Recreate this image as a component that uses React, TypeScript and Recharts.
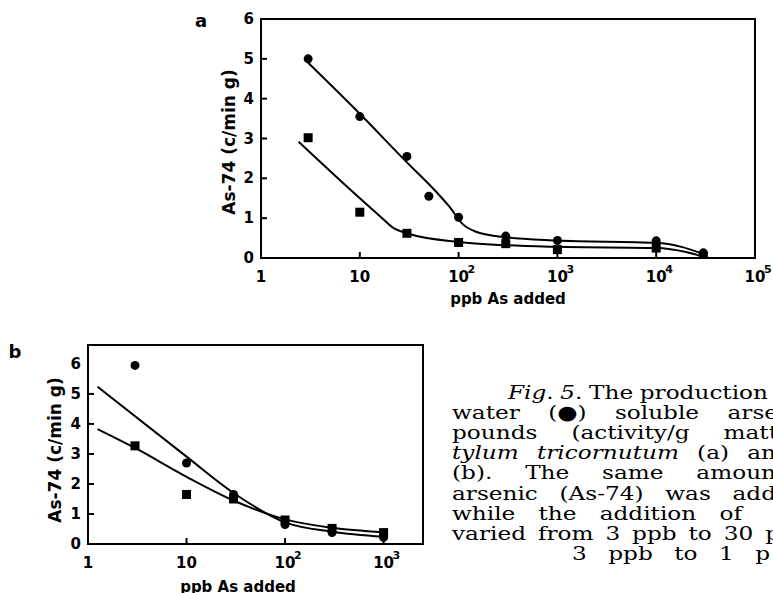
import { useLayoutEffect, useRef, useState } from 'react';
import { ComposedChart, Line, Scatter, XAxis, YAxis, ReferenceArea } from 'recharts';

const INK = '#000';
const SANS = "'DejaVu Sans', 'Liberation Sans', sans-serif";
const SERIF = "'DejaVu Serif', 'Liberation Serif', serif";

// panel a: 3 ppb .. 3x10^4 ppb
const aCircleX = [3, 10, 30, 50, 100, 300, 1000, 10000, 30000];
const aCircleY = [5.0, 3.55, 2.55, 1.55, 1.02, 0.55, 0.44, 0.43, 0.13];
const aSquareX = [3, 10, 30, 100, 300, 1000, 10000, 30000];
const aSquareY = [3.02, 1.15, 0.62, 0.39, 0.36, 0.21, 0.25, 0.05];
// hand-drawn fit curves
const aCircleFitX = [3, 10, 30, 60, 80, 110, 150, 300, 1000, 10000, 18000, 30000];
const aCircleFitY = [4.9, 3.62, 2.4, 1.65, 1.3, 0.85, 0.66, 0.52, 0.44, 0.38, 0.28, 0.1];
const aSquareFitX = [2.4, 10, 16, 22, 30, 100, 300, 1000, 10000, 20000, 30000];
const aSquareFitY = [2.92, 1.5, 1.05, 0.75, 0.62, 0.4, 0.32, 0.28, 0.25, 0.15, 0.03];

// panel b: 3 ppb .. 1000 ppb
const bCircleX = [3, 10, 30, 100, 300, 1000];
const bCircleY = [5.95, 2.7, 1.65, 0.65, 0.38, 0.22];
const bSquareX = [3, 10, 30, 100, 300, 1000];
const bSquareY = [3.27, 1.65, 1.5, 0.8, 0.52, 0.38];
const bCircleFitX = [1.25, 10, 30, 100, 300, 1000];
const bCircleFitY = [5.24, 2.91, 1.7, 0.72, 0.41, 0.24];
const bSquareFitX = [1.25, 3, 10, 30, 100, 300, 1000];
const bSquareFitY = [3.83, 3.2, 2.24, 1.45, 0.82, 0.54, 0.39];

const aXTicks = [1, 10, 100, 1000, 10000, 100000];
const aXBase = ['1', '10', '10', '10', '10', '10'];
const aXSup = ['', '', '2', '3', '4', '5'];
const bXTicks = [1, 10, 100, 1000];
const bXBase = ['1', '10', '10', '10'];
const bXSup = ['', '', '2', '3'];
const yTicks = [0, 1, 2, 3, 4, 5, 6];

const pts = (xs: number[], ys: number[]) => xs.map((x, i) => ({ x, y: ys[i] }));

function Dot(props: any) {
  const { cx, cy } = props;
  if (cx == null || cy == null) return null;
  return <circle cx={cx} cy={cy} r={4.5} fill={INK} />;
}

function Sq(props: any) {
  const { cx, cy } = props;
  if (cx == null || cy == null) return null;
  return <rect x={cx - 4.5} y={cy - 4.5} width={9} height={9} fill={INK} />;
}

function makeXTick(ticks: number[], base: string[], sup: string[], inner: boolean[]) {
  return (props: any) => {
    const { x, y, payload } = props;
    const i = ticks.indexOf(payload.value);
    if (i < 0) return <g />;
    return (
      <g>
        {inner[i] && <line x1={x} x2={x} y1={y} y2={y - 6} stroke={INK} strokeWidth={2} />}
        <text x={x} y={y + 24} textAnchor="middle" fontFamily={SANS} fontSize={15} fontWeight={700} fill={INK}>
          {base[i]}
        </text>
        {sup[i] && (
          <text x={x + 9} y={y + 15} textAnchor="start" fontFamily={SANS} fontSize={11} fontWeight={700} fill={INK}>
            {sup[i]}
          </text>
        )}
      </g>
    );
  };
}

function yTick(props: any) {
  const { x, y, payload } = props;
  const v = payload.value;
  return (
    <g>
      {v > 0 && v < 6 && <line x1={x} x2={x + 6} y1={y} y2={y} stroke={INK} strokeWidth={2} />}
      <text x={x - 7} y={y + 5} textAnchor="end" fontFamily={SANS} fontSize={15} fontWeight={700} fill={INK}>
        {v}
      </text>
    </g>
  );
}

function Panel({ w, h, margin, xMax, yMax, xTicks, xTick, circles, squares, circleFit, squareFit }: any) {
  return (
    <ComposedChart width={w} height={h} margin={margin}>
      <XAxis
        dataKey="x" type="number" scale="log" domain={[1, xMax]} ticks={xTicks} allowDataOverflow
        height={40} axisLine={false} tickLine={false} tickSize={0} tickMargin={0} interval={0} tick={xTick}
      />
      <YAxis
        dataKey="y" type="number" domain={[0, yMax]} ticks={yTicks} allowDataOverflow
        width={40} axisLine={false} tickLine={false} tickSize={0} tickMargin={0} interval={0} tick={yTick}
      />
      <ReferenceArea x1={1} x2={xMax} y1={0} y2={yMax} fill="none" fillOpacity={0} stroke={INK} strokeWidth={2} ifOverflow="visible" />
      <Line data={circleFit} dataKey="y" type="monotone" stroke={INK} strokeWidth={2} dot={false} isAnimationActive={false} />
      <Line data={squareFit} dataKey="y" type="monotone" stroke={INK} strokeWidth={2} dot={false} isAnimationActive={false} />
      <Scatter data={circles} dataKey="y" shape={<Dot />} isAnimationActive={false} />
      <Scatter data={squares} dataKey="y" shape={<Sq />} isAnimationActive={false} />
    </ComposedChart>
  );
}

// caption lines (justified in the original, cut at the right edge)
const SCALE = 1.22;
const captionLines = [
  { left: 508, end: 768, text: <><i>Fig</i>. <i>5</i>. The production</> },
  { left: 452, end: 778, text: <>water (●) soluble arse</> },
  { left: 452, end: 778, text: <>pounds (activity/g matt</> },
  { left: 452, end: 776, text: <><i>tylum tricornutum</i> (a) an</> },
  { left: 452, end: 776, text: <>(b). The same amoun</> },
  { left: 452, end: 776, text: <>arsenic (As-74) was add</> },
  { left: 452, end: 742, text: <>while the addition of</> },
  { left: 452, end: 780, text: <>varied from 3 ppb to 30 p</> },
  { left: 572, end: 770, text: <>3 ppb to 1 p</> },
];

function Caption() {
  const refs = useRef<(HTMLSpanElement | null)[]>([]);
  const [ws, setWs] = useState<number[]>(captionLines.map(() => 0));
  useLayoutEffect(() => {
    setWs(
      captionLines.map((l, i) => {
        const el = refs.current[i];
        if (!el) return 0;
        const w = el.getBoundingClientRect().width;
        const spaces = (el.textContent || '').split(' ').length - 1;
        return spaces > 0 ? (l.end - l.left - w) / (spaces * SCALE) : 0;
      })
    );
  }, []);
  return (
    <>
      {captionLines.map((l, i) => (
        <div
          key={i}
          style={{
            position: 'absolute',
            left: l.left,
            top: 382 + i * 20.1,
            fontFamily: SERIF,
            fontSize: 19,
            lineHeight: '20px',
            whiteSpace: 'nowrap',
            color: INK,
            transform: `scaleX(${SCALE})`,
            transformOrigin: 'left center',
            wordSpacing: ws[i],
          }}
        >
          <span ref={(el) => { refs.current[i] = el; }}>{l.text}</span>
        </div>
      ))}
    </>
  );
}

export default function App() {
  return (
    <div style={{ position: 'absolute', left: 0, top: 0, width: 773, height: 593, overflow: 'hidden', background: '#fff' }}>
      <div style={{ position: 'absolute', left: 0, top: 0 }}>
        <Panel
          w={773} h={300}
          margin={{ top: 19, right: 18, bottom: 2, left: 221 }}
          xMax={100000} yMax={6}
          xTicks={aXTicks}
          xTick={makeXTick(aXTicks, aXBase, aXSup, [false, true, true, true, true, false])}
          circles={pts(aCircleX, aCircleY)} squares={pts(aSquareX, aSquareY)}
          circleFit={pts(aCircleFitX, aCircleFitY)} squareFit={pts(aSquareFitX, aSquareFitY)}
        />
      </div>
      <div style={{ position: 'absolute', left: 0, top: 300 }}>
        <Panel
          w={440} h={293}
          margin={{ top: 45, right: 17, bottom: 9, left: 48 }}
          xMax={2512} yMax={6.63}
          xTicks={bXTicks}
          xTick={makeXTick(bXTicks, bXBase, bXSup, [false, true, true, true])}
          circles={pts(bCircleX, bCircleY)} squares={pts(bSquareX, bSquareY)}
          circleFit={pts(bCircleFitX, bCircleFitY)} squareFit={pts(bSquareFitX, bSquareFitY)}
        />
      </div>
      <svg width={773} height={593} style={{ position: 'absolute', left: 0, top: 0, pointerEvents: 'none' }}>
        <g fontFamily={SANS} fontWeight={700} fill={INK}>
          <text x={201} y={27} fontSize={18} textAnchor="middle">a</text>
          <text x={15} y={358} fontSize={18} textAnchor="middle">b</text>
          <text transform="translate(229,142) rotate(-90)" fontSize={17} textAnchor="middle" dominantBaseline="central">As-74 (c/min g)</text>
          <text transform="translate(55,450) rotate(-90)" fontSize={17} textAnchor="middle" dominantBaseline="central">As-74 (c/min g)</text>
          <text x={508} y={304} fontSize={15} textAnchor="middle">ppb As added</text>
          <text x={238} y={592} fontSize={15} textAnchor="middle">ppb As added</text>
        </g>
      </svg>
      <Caption />
    </div>
  );
}
